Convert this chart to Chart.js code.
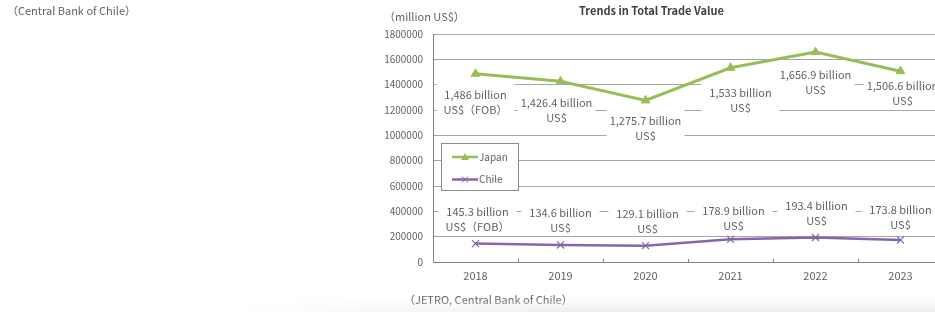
<!DOCTYPE html>
<html>
<head>
<meta charset="utf-8">
<script src="https://cdn.jsdelivr.net/npm/chart.js@4/dist/chart.umd.min.js"></script>
<style>
  html, body { margin:0; padding:0; background:#fff; }
  #wrap { position:relative; width:935px; height:312px; overflow:hidden; background:#fff; }
  #c { position:absolute; left:0; top:0; }
  .t { position:absolute; white-space:nowrap; font-family:"Noto Sans CJK JP","Noto Sans",sans-serif; color:#626262; font-size:11px; line-height:14px; }
  #shade { position:absolute; left:0; right:0; bottom:0; height:14px;
    background:linear-gradient(to bottom, rgba(238,238,238,0), rgba(236,236,236,0.9));
    -webkit-mask-image:linear-gradient(to right, rgba(0,0,0,0) 25%, rgba(0,0,0,1) 60%);
    mask-image:linear-gradient(to right, rgba(0,0,0,0) 25%, rgba(0,0,0,1) 60%); }
</style>
</head>
<body>
<div id="wrap">
  <canvas id="c" width="950" height="312"></canvas>
  <div class="t" style="left:7px;top:3px;">（Central Bank of Chile）</div>
  <div class="t" style="left:384px;top:9px;">（million US$）</div>
  <div class="t" style="left:579px;top:3px;font-weight:bold;color:#404040;">Trends in Total Trade Value</div>
  <div class="t" style="left:404px;top:292px;">（JETRO, Central Bank of Chile）</div>
  <div id="shade"></div>
</div>
<script>
// ---- data ----
const categories = ['2018', '2019', '2020', '2021', '2022', '2023'];
const japanValues = [1486000, 1426400, 1275700, 1533000, 1656900, 1506600];
const chileValues = [145300, 134600, 129100, 178900, 193400, 173800];
const yTickValues = [0, 200000, 400000, 600000, 800000, 1000000, 1200000, 1400000, 1600000, 1800000];
const seriesNames = ['Japan', 'Chile'];
const labelSecondLines = ['US$（FOB）', 'US$', 'US$', 'US$', 'US$', 'US$'];

// ---- layout (label placement relative to each point) ----
const japanLabelDx = [0, -4, 0, 10, 0, 2];
const japanLabelDy = [21, 21, 20, 25, 23, 15];
const chileLabelDx = [2, 0, 2, 3, 1, 0];
const chileLabelDy = [-32, -32, -32, -29, -32, -30];

const FONT = '"Noto Sans CJK JP","Noto Sans",sans-serif';
const TEXT = '#626262';
const GREEN = '#9BBB59';
const PURPLE = '#8566AA';

function fmtBillion(v) {
  return (v / 1000).toLocaleString('en-US', { maximumFractionDigits: 1 });
}

const labelPlugin = {
  id: 'valueLabels',
  beforeDatasetsDraw(chart) {
    const ctx = chart.ctx;
    const cfg = [[japanLabelDx, japanLabelDy], [chileLabelDx, chileLabelDy]];
    ctx.save();
    ctx.font = '11px ' + FONT;
    ctx.textAlign = 'center';
    ctx.textBaseline = 'middle';
    chart.data.datasets.forEach((ds, di) => {
      const meta = chart.getDatasetMeta(di);
      meta.data.forEach((pt, i) => {
        const cx = pt.x + cfg[di][0][i];
        const y1 = pt.y + cfg[di][1][i];
        ctx.fillStyle = '#ffffff';
        ctx.fillRect(cx - 39, y1 - 12, 78, 34);
        ctx.fillStyle = TEXT;
        ctx.fillText(fmtBillion(ds.data[i]) + ' billion', cx, y1);
        ctx.fillText(labelSecondLines[i], cx, y1 + 15);
      });
    });
    ctx.restore();
  },
  afterDatasetsDraw(chart) {
    const ctx = chart.ctx;
    const a = chart.chartArea;
    const n = categories.length;
    const step = (a.right - a.left) / n;
    ctx.save();
    ctx.strokeStyle = '#808080';
    ctx.lineWidth = 1;
    for (let i = 1; i < n; i++) {
      const x = Math.round(a.left + i * step) + 0.5;
      ctx.beginPath();
      ctx.moveTo(x, a.bottom);
      ctx.lineTo(x, a.bottom - 3);
      ctx.stroke();
    }
    // legend
    const lx = a.left + 8, ly = a.top + 109, lw = 77, lh = 47;
    ctx.fillStyle = '#ffffff';
    ctx.fillRect(lx, ly, lw, lh);
    ctx.strokeStyle = '#8c8c8c';
    ctx.strokeRect(lx + 0.5, ly + 0.5, lw, lh);
    chart.data.datasets.forEach((ds, di) => {
      const y = ly + 14 + di * 22.5;
      ctx.strokeStyle = ds.borderColor;
      ctx.lineWidth = 2.5;
      ctx.beginPath();
      ctx.moveTo(lx + 11, y);
      ctx.lineTo(lx + 37, y);
      ctx.stroke();
      const mx = lx + 24;
      if (di === 0) {
        ctx.fillStyle = ds.borderColor;
        ctx.beginPath();
        ctx.moveTo(mx, y - 4);
        ctx.lineTo(mx + 4, y + 3);
        ctx.lineTo(mx - 4, y + 3);
        ctx.closePath();
        ctx.fill();
      } else {
        ctx.lineWidth = 1;
        ctx.beginPath();
        ctx.moveTo(mx - 3, y - 3); ctx.lineTo(mx + 3, y + 3);
        ctx.moveTo(mx + 3, y - 3); ctx.lineTo(mx - 3, y + 3);
        ctx.stroke();
      }
      ctx.fillStyle = TEXT;
      ctx.font = '10px ' + FONT;
      ctx.textAlign = 'left';
      ctx.textBaseline = 'middle';
      ctx.fillText(ds.label, lx + 38, y);
    });
    ctx.restore();
  }
};

new Chart(document.getElementById('c'), {
  type: 'line',
  data: {
    labels: categories,
    datasets: [
      {
        label: seriesNames[0],
        data: japanValues,
        borderColor: GREEN,
        backgroundColor: GREEN,
        borderWidth: 3,
        pointStyle: 'triangle',
        pointRadius: 5,
        pointBorderWidth: 1,
        tension: 0
      },
      {
        label: seriesNames[1],
        data: chileValues,
        borderColor: PURPLE,
        backgroundColor: PURPLE,
        borderWidth: 2.5,
        pointStyle: 'crossRot',
        pointRadius: 5,
        pointBorderWidth: 1.2,
        tension: 0
      }
    ]
  },
  options: {
    responsive: false,
    animation: false,
    devicePixelRatio: 1,
    layout: { padding: { top: 34, right: 7, bottom: 0, left: 0 } },
    plugins: { legend: { display: false }, title: { display: false }, tooltip: { enabled: false } },
    scales: {
      x: {
        type: 'category',
        offset: true,
        grid: { display: false, drawTicks: false },
        border: { display: true, color: '#808080', width: 1 },
        ticks: { font: { size: 11, family: FONT }, color: TEXT, padding: 7 },
        afterFit(s) { s.height = 50; }
      },
      y: {
        min: 0,
        max: 1800000,
        afterBuildTicks(s) { s.ticks = yTickValues.map(v => ({ value: v })); },
        ticks: { font: { size: 10, family: FONT }, color: TEXT, padding: 10, callback: v => String(v) },
        grid: { color: '#a6a6a6', lineWidth: 1, drawTicks: false },
        border: { display: true, color: '#808080', width: 1 },
        afterFit(s) { s.width = 433; }
      }
    }
  },
  plugins: [labelPlugin]
});
</script>
</body>
</html>
